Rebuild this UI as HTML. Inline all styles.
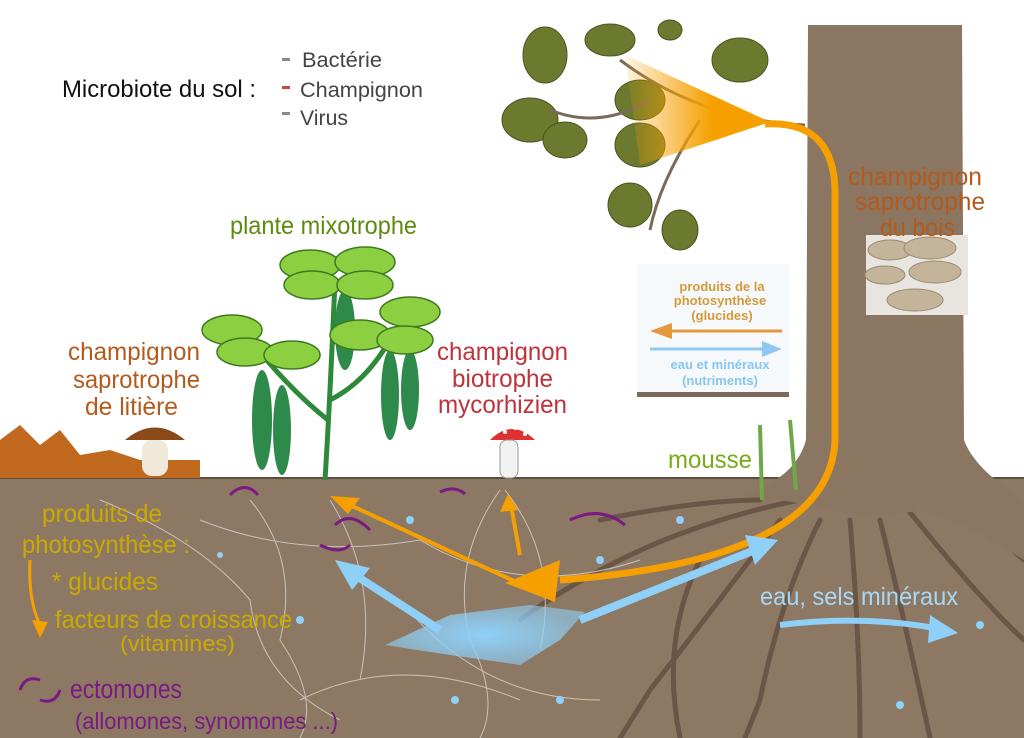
<!DOCTYPE html>
<html><head><meta charset="utf-8"><style>
html,body{margin:0;padding:0;background:#fff}
svg{display:block}
text{font-family:"Liberation Sans Narrow","Liberation Sans",sans-serif}
</style></head><body>
<svg width="1024" height="738" viewBox="0 0 1024 738" xmlns="http://www.w3.org/2000/svg">
<defs>
<linearGradient id="og" x1="0" x2="1"><stop offset="0" stop-color="#f5a000" stop-opacity="0.1"/><stop offset="0.6" stop-color="#f5a000"/></linearGradient>
<radialGradient id="bg"><stop offset="0" stop-color="#8fd0f8"/><stop offset="1" stop-color="#8fd0f8" stop-opacity="0.6"/></radialGradient>
</defs>
<rect width="1024" height="738" fill="#fff"/>
<rect x="0" y="478" width="1024" height="260" fill="#8d7864"/>
<line x1="0" y1="478" x2="1024" y2="478" stroke="#5e4e40" stroke-width="2"/>
<g stroke="#6a5646" stroke-width="5" fill="none" stroke-linecap="round">
<path d="M800 500 Q700 520 620 560 Q560 590 520 620"/>
<path d="M780 520 Q720 600 650 690 L620 738"/>
<path d="M820 520 Q780 600 760 700 L745 738"/>
<path d="M880 520 Q900 600 930 738"/>
<path d="M960 500 Q1000 540 1024 560"/>
<path d="M760 500 Q700 500 600 520"/>
<path d="M850 520 Q860 640 860 738"/>
<path d="M700 560 Q660 640 680 738"/>
<path d="M900 500 Q980 600 1024 640"/>
</g>
<g stroke="#d8d4cc" stroke-width="1" fill="none" opacity="0.8">
<path d="M250 500 Q300 560 280 640 Q320 700 300 738"/>
<path d="M330 500 Q380 580 360 680"/>
<path d="M500 490 Q450 560 470 640 Q500 700 480 738"/>
<path d="M505 490 Q560 560 540 650"/>
<path d="M200 520 Q300 560 420 540 Q520 600 640 560"/>
<path d="M100 500 Q200 540 250 600 Q260 680 340 720"/>
<path d="M400 600 Q480 700 600 700"/>
<path d="M300 700 Q400 650 520 700"/>
</g>
<path d="M808 25 L962 25 L964 440 Q975 470 1024 500 L1024 560 Q960 520 920 510 Q880 520 830 510 Q790 500 740 495 Q795 480 806 440 Z" fill="#8a7661"/>
<rect x="866" y="235" width="102" height="80" fill="#e8e4df"/>
<g fill="#c4b49a" stroke="#9a8a70">
<ellipse cx="890" cy="250" rx="22" ry="10"/><ellipse cx="930" cy="248" rx="26" ry="11"/>
<ellipse cx="885" cy="275" rx="20" ry="9"/><ellipse cx="935" cy="272" rx="26" ry="11"/>
<ellipse cx="915" cy="300" rx="28" ry="11"/>
</g>
<g fill="#6b7a2f" stroke="#4a5520">
<ellipse cx="545" cy="55" rx="22" ry="28"/><ellipse cx="610" cy="40" rx="25" ry="16"/>
<ellipse cx="740" cy="60" rx="28" ry="22"/><ellipse cx="530" cy="120" rx="28" ry="22"/>
<ellipse cx="565" cy="140" rx="22" ry="18"/><ellipse cx="640" cy="145" rx="25" ry="22"/>
<ellipse cx="630" cy="205" rx="22" ry="22"/><ellipse cx="680" cy="230" rx="18" ry="20"/>
<ellipse cx="640" cy="100" rx="25" ry="20"/><ellipse cx="670" cy="30" rx="12" ry="10"/>
</g>
<g stroke="#7a6a5a" stroke-width="3" fill="none"><path d="M805 125 Q700 120 620 60"/><path d="M700 120 Q660 180 650 230"/><path d="M650 100 Q600 130 550 110"/></g>
<polygon points="625,55 770,122 640,165" fill="url(#og)"/>
<path d="M765 124 Q838 120 835 200 L835 440 Q830 560 560 580" stroke="#f5a000" stroke-width="7" fill="none"/>
<polygon points="505,583 560,560 555,602" fill="#f5a000"/>
<path d="M555 600 L350 505" stroke="#f5a000" stroke-width="4"/>
<polygon points="330,496 360,498 348,514" fill="#f5a000"/>
<path d="M520 555 L510 500" stroke="#f5a000" stroke-width="4"/>
<polygon points="508,494 500,512 518,510" fill="#f5a000"/>
<path d="M30 560 Q28 600 40 625" stroke="#f5a000" stroke-width="3" fill="none"/>
<polygon points="40,638 32,620 48,622" fill="#f5a000"/>
<polygon points="385,645 450,615 530,605 585,612 560,640 520,665 450,655" fill="url(#bg)"/>
<path d="M440 630 L355 575" stroke="#8fd0f8" stroke-width="8"/>
<polygon points="335,560 370,568 352,590" fill="#8fd0f8"/>
<path d="M580 620 Q680 580 755 550" stroke="#8fd0f8" stroke-width="8" fill="none"/>
<polygon points="778,540 745,535 755,565" fill="#8fd0f8"/>
<path d="M780 625 Q860 615 935 628" stroke="#8fd0f8" stroke-width="6" fill="none"/>
<polygon points="958,633 930,615 928,643" fill="#8fd0f8"/>
<g fill="#8fd0f8"><circle cx="410" cy="520" r="4"/><circle cx="455" cy="700" r="4"/><circle cx="600" cy="560" r="4"/><circle cx="980" cy="625" r="4"/><circle cx="300" cy="620" r="4"/><circle cx="680" cy="520" r="4"/><circle cx="900" cy="705" r="4"/><circle cx="220" cy="555" r="3"/><circle cx="560" cy="700" r="4"/></g>
<g stroke="#7a1a82" stroke-width="3" fill="none">
<path d="M230 495 Q245 480 258 495"/><path d="M335 525 Q350 510 370 530"/><path d="M570 520 Q600 505 625 525"/><path d="M440 492 Q455 485 465 494"/><path d="M20 690 Q25 675 40 680"/><path d="M60 690 Q55 705 40 700"/>
<path d="M320 545 Q340 555 350 545"/>
</g>
<g stroke="#2e8a3a" stroke-width="5" fill="none"><path d="M325 480 Q330 400 335 280"/><path d="M330 400 Q370 380 395 330"/><path d="M328 420 Q290 390 250 340"/></g>
<g fill="#2e8a4a"><ellipse cx="262" cy="420" rx="10" ry="50"/><ellipse cx="282" cy="430" rx="9" ry="45"/><ellipse cx="345" cy="330" rx="10" ry="40"/><ellipse cx="390" cy="395" rx="9" ry="45"/><ellipse cx="410" cy="390" rx="9" ry="40"/></g>
<g fill="#8ccf40" stroke="#3e7a20" stroke-width="1.5">
<ellipse cx="310" cy="265" rx="30" ry="15"/><ellipse cx="365" cy="262" rx="30" ry="15"/><ellipse cx="312" cy="285" rx="28" ry="14"/><ellipse cx="365" cy="285" rx="28" ry="14"/>
<ellipse cx="232" cy="330" rx="30" ry="15"/><ellipse cx="245" cy="352" rx="28" ry="14"/><ellipse cx="292" cy="355" rx="28" ry="14"/>
<ellipse cx="360" cy="335" rx="30" ry="15"/><ellipse cx="410" cy="312" rx="30" ry="15"/><ellipse cx="405" cy="340" rx="28" ry="14"/>
</g>
<path d="M0 440 L20 425 L40 445 L60 430 L80 455 L110 450 L140 460 L200 460 L200 478 L0 478Z" fill="#c0691e"/>
<path d="M125 440 Q155 415 185 440 Z" fill="#8a4a1a"/>
<rect x="142" y="440" width="26" height="36" rx="10" fill="#f0e8d8"/>
<path d="M490 440 Q512 418 535 440 Z" fill="#e03030"/>
<rect x="500" y="440" width="18" height="38" rx="7" fill="#f2f2f2" stroke="#999"/>
<g fill="#fff"><circle cx="505" cy="432" r="2"/><circle cx="515" cy="428" r="2"/><circle cx="525" cy="434" r="2"/></g>
<g stroke="#6ea84a" stroke-width="4" fill="none"><path d="M760 425 L762 500"/><path d="M790 420 L796 490"/></g>
<rect x="637" y="264" width="152" height="130" fill="#f6f9fc"/>
<rect x="637" y="392" width="152" height="5" fill="#7a6a5a"/>
<g font-weight="bold" font-size="13" text-anchor="middle" font-family="Liberation Sans, sans-serif">
<text x="722" y="291" fill="#d49a3a">produits de la</text>
<text x="720" y="305" fill="#d49a3a">photosynthèse</text>
<text x="722" y="320" fill="#d49a3a">(glucides)</text>
<text x="720" y="369" fill="#88c6ee">eau et minéraux</text>
<text x="720" y="385" fill="#88c6ee">(nutriments)</text>
</g>
<line x1="665" y1="331" x2="782" y2="331" stroke="#e4983a" stroke-width="3"/>
<polygon points="650,331 672,323 672,339" fill="#e4983a"/>
<line x1="650" y1="349" x2="768" y2="349" stroke="#8fc8f0" stroke-width="3"/>
<polygon points="782,349 762,341 762,357" fill="#8fc8f0"/>
<g lengthAdjust="spacingAndGlyphs">
<text x="62" y="97" font-size="24" fill="#111" textLength="194" lengthAdjust="spacingAndGlyphs">Microbiote du sol :</text>
<g font-size="21" fill="#444"><text x="302" y="67" textLength="80" lengthAdjust="spacingAndGlyphs">Bactérie</text><text x="300" y="97" textLength="123" lengthAdjust="spacingAndGlyphs">Champignon</text><text x="300" y="125" textLength="48" lengthAdjust="spacingAndGlyphs">Virus</text></g>
</g>
<g fill="#888"><rect x="282" y="58" width="8" height="3"/><rect x="282" y="86" width="8" height="3" fill="#c44"/><rect x="282" y="112" width="8" height="3"/></g>
<text x="230" y="234" font-size="25" fill="#5f8a10" textLength="187" lengthAdjust="spacingAndGlyphs">plante mixotrophe</text>
<g font-size="25" fill="#b45a1c">
<text x="68" y="360" textLength="132" lengthAdjust="spacingAndGlyphs">champignon</text>
<text x="73" y="388" textLength="127" lengthAdjust="spacingAndGlyphs">saprotrophe</text>
<text x="85" y="415" textLength="93" lengthAdjust="spacingAndGlyphs">de litière</text></g>
<g font-size="25" fill="#c0323a">
<text x="437" y="360" textLength="131" lengthAdjust="spacingAndGlyphs">champignon</text>
<text x="452" y="387" textLength="101" lengthAdjust="spacingAndGlyphs">biotrophe</text>
<text x="438" y="413" textLength="129" lengthAdjust="spacingAndGlyphs">mycorhizien</text></g>
<g font-size="25" fill="#b45a1c">
<text x="848" y="185" textLength="134" lengthAdjust="spacingAndGlyphs">champignon</text>
<text x="855" y="210" textLength="130" lengthAdjust="spacingAndGlyphs">saprotrophe</text>
<text x="880" y="236" textLength="75" lengthAdjust="spacingAndGlyphs">du bois</text></g>
<text x="668" y="468" font-size="25" fill="#7aaa18" textLength="84" lengthAdjust="spacingAndGlyphs">mousse</text>
<g font-size="25" fill="#c9ab00">
<text x="42" y="522" textLength="120" lengthAdjust="spacingAndGlyphs">produits de</text>
<text x="22" y="553" textLength="168" lengthAdjust="spacingAndGlyphs">photosynthèse :</text>
<text x="52" y="590" textLength="106" lengthAdjust="spacingAndGlyphs">* glucides</text>
<text x="55" y="628" textLength="237" lengthAdjust="spacingAndGlyphs">facteurs de croissance</text>
<text x="120" y="651" font-size="22" textLength="115" lengthAdjust="spacingAndGlyphs">(vitamines)</text></g>
<text x="70" y="698" font-size="27" fill="#7a1a82" textLength="112" lengthAdjust="spacingAndGlyphs">ectomones</text>
<text x="75" y="729" font-size="23" fill="#7a1a82" textLength="263" lengthAdjust="spacingAndGlyphs">(allomones, synomones ...)</text>
<text x="760" y="605" font-size="25" fill="#a6d8f8" textLength="198" lengthAdjust="spacingAndGlyphs">eau, sels minéraux</text>
</svg>
</body></html>
